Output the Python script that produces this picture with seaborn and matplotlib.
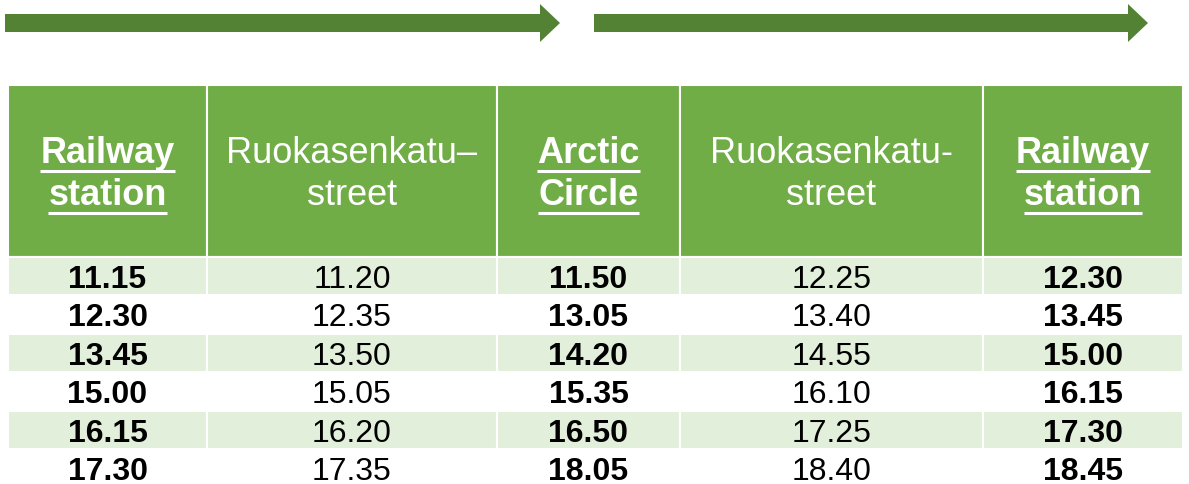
import numpy as np
import matplotlib.pyplot as plt
import matplotlib.patches as mpatches
import seaborn as sns

# ==================================================
# DATA
# ==================================================

header_lines = [
    ["Railway", "station"],
    ["Ruokasenkatu–", "street"],
    ["Arctic", "Circle"],
    ["Ruokasenkatu-", "street"],
    ["Railway", "station"],
]

stop_column = [True, False, True, False, True]

railway_out = ["11.15", "12.30", "13.45", "15.00", "16.15", "17.30"]
ruokasenkatu_out = ["11.20", "12.35", "13.50", "15.05", "16.20", "17.35"]
arctic_circle = ["11.50", "13.05", "14.20", "15.35", "16.50", "18.05"]
ruokasenkatu_back = ["12.25", "13.40", "14.55", "16.10", "17.25", "18.40"]
railway_back = ["12.30", "13.45", "15.00", "16.15", "17.30", "18.45"]

columns = [railway_out, ruokasenkatu_out, arctic_circle, ruokasenkatu_back, railway_back]

# ==================================================
# STYLE / LAYOUT
# ==================================================

sns.set_theme(style="white")
plt.rcParams["font.family"] = ["Liberation Sans", "DejaVu Sans"]

W, H = 1189, 485
dark_green = "#548235"
green = "#70AD47"
light_green = "#E2EFDA"

col_edges = np.array([8, 207, 497, 680, 983, 1183])
col_left = col_edges[:-1]
col_width = np.diff(col_edges)
col_center = col_left + col_width / 2

header_top, header_bottom = 86, 258
row_h = 38.4
n_rows = len(railway_out)
row_top = header_bottom + row_h * np.arange(n_rows)

fig = plt.figure(figsize=(W / 100, H / 100), dpi=100)
ax = fig.add_axes([0, 0, 1, 1])
ax.set_xlim(0, W)
ax.set_ylim(H, 0)
ax.axis("off")

# ==================================================
# ARROWS
# ==================================================

for x0, x1 in [(5, 560), (594, 1148)]:
    ax.add_patch(
        mpatches.FancyArrow(
            x0, 24, x1 - x0, 0,
            width=18,
            head_width=38,
            head_length=20,
            length_includes_head=True,
            color=dark_green,
            linewidth=0
        )
    )

# ==================================================
# HEADER
# ==================================================

ax.bar(
    col_left,
    header_bottom - header_top,
    width=col_width,
    bottom=header_top,
    align="edge",
    color=green,
    edgecolor="white",
    linewidth=1.5
)

renderer = fig.canvas.get_renderer()
inv = ax.transData.inverted()

for i, lines in enumerate(header_lines):
    for j, line in enumerate(lines):
        base = 163 + 42 * j
        txt = ax.text(
            col_center[i], base, line,
            ha="center", va="baseline",
            fontsize=26,
            fontweight="bold" if stop_column[i] else "normal",
            color="white"
        )
        if stop_column[i]:
            bb = txt.get_window_extent(renderer)
            (xa, _), (xb, _) = inv.transform([[bb.x0, 0], [bb.x1, 0]])
            ax.plot([xa, xb], [base + 8.5, base + 8.5], color="white", linewidth=2.2, solid_capstyle="butt")

# ==================================================
# BODY
# ==================================================

for r in range(n_rows):
    if r % 2 == 0:
        ax.bar(
            col_left,
            row_h,
            width=col_width,
            bottom=row_top[r],
            align="edge",
            color=light_green,
            edgecolor="white",
            linewidth=1.5
        )
    for c, times in enumerate(columns):
        ax.text(
            col_center[c], row_top[r] + 30, times[r],
            ha="center", va="baseline",
            fontsize=23,
            fontweight="bold" if stop_column[c] else "normal",
            color="black"
        )

fig.savefig("out.png", dpi=100)
